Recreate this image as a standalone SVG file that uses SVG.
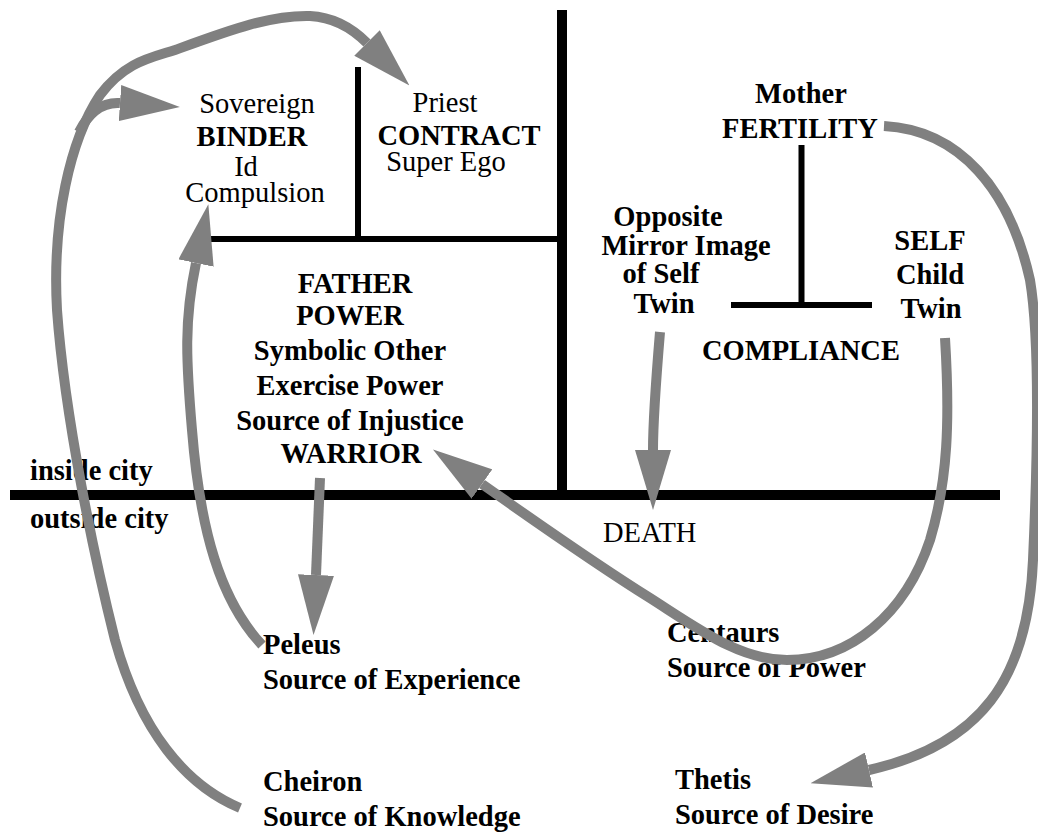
<svg xmlns="http://www.w3.org/2000/svg" width="1038" height="835" viewBox="0 0 1038 835">
<style>
text{font-family:"Liberation Serif","Times New Roman",serif;font-size:28.5px;fill:#000}
.b{font-weight:bold}
.c{text-anchor:middle}
.bar{stroke:#000;fill:none;stroke-linecap:butt}
.con{stroke:#808080;stroke-width:10;fill:none}
</style>
<defs>
<marker id="ah" markerUnits="userSpaceOnUse" markerWidth="60" markerHeight="36" viewBox="0 0 60 36" refX="0" refY="18" orient="auto">
<path d="M0,0 L60,18 L0,36 z" fill="#808080"/>
</marker>
</defs>
<rect width="1038" height="835" fill="#fff"/>
<g id="frame">
<path class="bar" stroke-width="10" d="M10,495 L1000,495"/>
<path class="bar" stroke-width="10" d="M562,10 L562,500"/>
<path class="bar" stroke-width="6" d="M358,67 L358,239"/>
<path class="bar" stroke-width="6" d="M193,239 L562,239"/>
<path class="bar" stroke-width="6" d="M801.5,145 L801.5,305"/>
<path class="bar" stroke-width="6" d="M731,305 L872,305"/>
</g>
<g id="binder">
<text class="c" x="257" y="113">Sovereign</text>
<text class="c b" x="252" y="146">BINDER</text>
<text class="c" x="246" y="176">Id</text>
<text class="c" x="255" y="202">Compulsion</text>
</g>
<g id="contract">
<text class="c" x="445" y="112">Priest</text>
<text class="c b" x="459" y="145">CONTRACT</text>
<text class="c" x="446" y="171">Super Ego</text>
</g>
<g id="fertility">
<text class="c b" x="801" y="103">Mother</text>
<text class="c b" x="800" y="138">FERTILITY</text>
</g>
<g id="opposite">
<text class="c b" x="668" y="226">Opposite</text>
<text class="c b" x="686" y="255">Mirror Image</text>
<text class="c b" x="661" y="283">of Self</text>
<text class="c b" x="664" y="313">Twin</text>
</g>
<g id="self">
<text class="c b" x="930" y="250">SELF</text>
<text class="c b" x="930" y="284">Child</text>
<text class="c b" x="931" y="318">Twin</text>
</g>
<g id="compliance">
<text class="c b" x="801" y="360">COMPLIANCE</text>
</g>
<g id="father">
<text class="c b" x="355" y="293">FATHER</text>
<text class="c b" x="350" y="325">POWER</text>
<text class="c b" x="350" y="360">Symbolic Other</text>
<text class="c b" x="350" y="395">Exercise Power</text>
<text class="c b" x="350" y="430">Source of Injustice</text>
<text class="c b" x="351" y="463">WARRIOR</text>
</g>
<g id="city">
<text class="b" x="30" y="480">inside city</text>
<text class="b" x="30" y="528">outside city</text>
</g>
<g id="death">
<text x="603" y="542">DEATH</text>
</g>
<g id="peleus">
<text class="b" x="263" y="654">Peleus</text>
<text class="b" x="263" y="689">Source of Experience</text>
</g>
<g id="centaurs">
<text class="b" x="667" y="642">Centaurs</text>
<text class="b" x="667" y="677">Source of Power</text>
</g>
<g id="cheiron">
<text class="b" x="263" y="791">Cheiron</text>
<text class="b" x="263" y="826">Source of Knowledge</text>
</g>
<g id="thetis">
<text class="b" x="675" y="789">Thetis</text>
<text class="b" x="675" y="824">Source of Desire</text>
</g>
<g id="connectors">
<path class="con" marker-end="url(#ah)" d="M240,808 C185,785 140,730 115,640 C95,560 65,420 57,310 C52,220 70,140 100,95 C125,62 150,58 175,50 C230,30 270,15 310,16 C330,17 350,26 367,43"/>
<path class="con" marker-end="url(#ah)" d="M79,132 C90,110 105,102 120,103"/>
<path class="con" marker-end="url(#ah)" d="M262,645 C220,600 200,530 192,430 C186,360 184,320 196,263"/>
<path class="con" marker-end="url(#ah)" d="M320,478 L316,575"/>
<path class="con" marker-end="url(#ah)" d="M660,332 C656,380 653,420 653,450"/>
<path class="con" marker-end="url(#ah)" d="M945,338 C950,420 948,480 930,540 C905,615 850,660 787,660 C740,660 700,630 650,598 C610,573 550,532 482,484"/>
<path class="con" marker-end="url(#ah)" d="M884,126 C960,130 1010,190 1030,280 C1040,340 1038,450 1033,560 C1028,680 980,745 869,770"/>
</g>
</svg>
